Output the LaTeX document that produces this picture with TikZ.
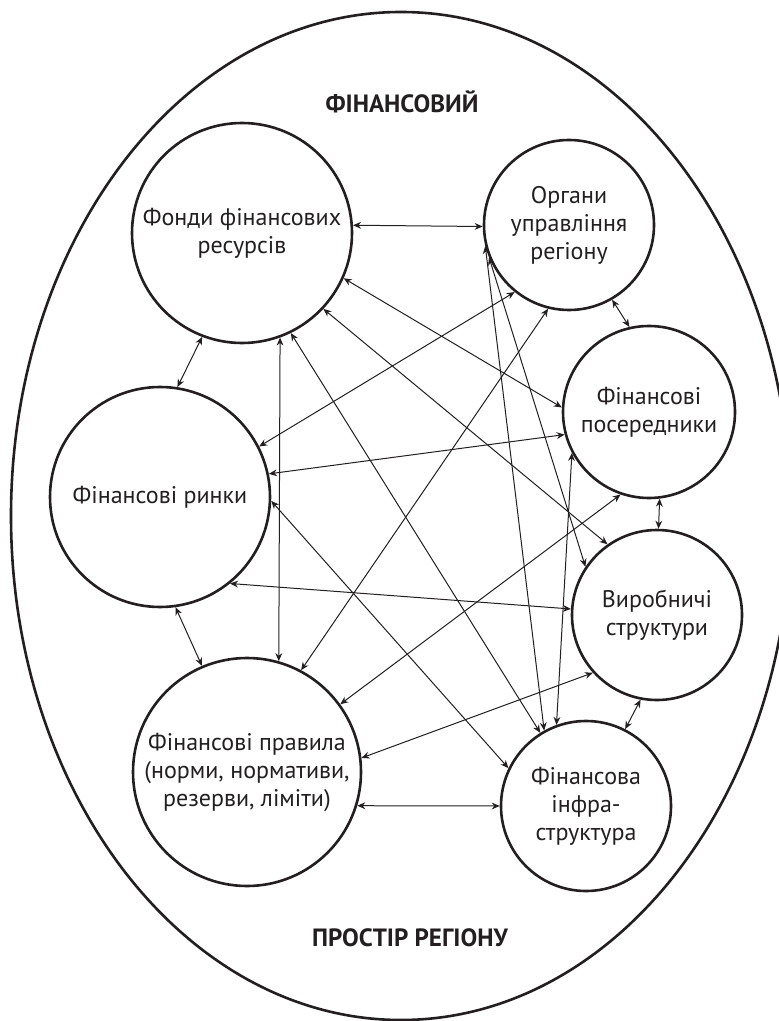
\documentclass[tikz,border=0pt]{standalone}
\usepackage{fontspec}
\setmainfont{PT Sans}
\usetikzlibrary{arrows.meta}
\definecolor{ink}{RGB}{35,31,32}

\tikzstyle{unit} = [circle, draw = ink, line width = 1.3pt, inner sep = 0pt, align = center, text = ink, font = \fontsize{12}{14}\selectfont]
\tikzstyle{heading} = [text = ink, font = \bfseries\fontsize{12.5}{14}\selectfont]
\tikzstyle{arrow} = [draw = ink, line width = 0.5pt, {Stealth[length = 4pt, width = 3.4pt]}-{Stealth[length = 4pt, width = 3.4pt]}]

\begin{document}
\begin{tikzpicture}[x = 0.5pt, y = -0.5pt]

    \clip (0,0) rectangle (779,1021);
    \draw[ink, line width = 1.3pt] (401,516) ellipse [x radius = 195pt, y radius = 252pt];

    \node(title)[heading] at (402,102) {ФІНАНСОВИЙ};
    \node(region)[heading] at (410,938) {ПРОСТІР РЕГІОНУ};

    \node(funds)[unit, minimum size = 110pt] at (242,233) {Фонди фінансових\\ресурсів};
    \node(gov)[unit, minimum size = 85pt] at (569,225) {Органи\\управління\\регіону};
    \node(mediators)[unit, minimum size = 86pt] at (649,412) {Фінансові\\посередники};
    \node(markets)[unit, minimum size = 110pt] at (160,497) {Фінансові ринки};
    \node(production)[unit, minimum size = 85pt] at (657,615) {Виробничі\\структури};
    \node(rules)[unit, minimum size = 114pt] at (247,772) {Фінансові правила\\(норми, нормативи,\\резерви, ліміти)};
    \node(infra)[unit, minimum size = 85pt] at (586,806) {Фінансова\\інфра-\\структура};

    \draw[arrow](funds.4) -- (gov.181);
    \draw[arrow](funds.-111) -- (markets.81);
    \draw[arrow](funds.-24) -- (mediators.177);
    \draw[arrow](funds.-43) -- (production.125);
    \draw[arrow](funds.-64) -- (infra.122);
    \draw[arrow](funds.-70) -- (rules.74);

    \draw[arrow](gov.-60) -- (mediators.103);
    \draw[arrow](gov.-129) -- (markets.27);
    \draw[arrow](gov.-104) -- (rules.62);
    \draw[arrow](gov.-158) -- (production.146);
    \draw[arrow](gov.-166) -- (infra.119);

    \draw[arrow](mediators.-165) -- (markets.12);
    \draw[arrow](mediators.-152) -- (infra.110);
    \draw[arrow](mediators.-109) -- (rules.36);
    \draw[arrow](mediators.-83) -- (production.89);

    \draw[arrow](markets.-2) -- (infra.154);
    \draw[arrow](markets.-51) -- (production.176);
    \draw[arrow](markets.-82) -- (rules.113);

    \draw[arrow](production.-138) -- (rules.7);
    \draw[arrow](production.-101) -- (infra.63);
    \draw[arrow](rules.-17) -- (infra.180);

\end{tikzpicture}
\end{document}
